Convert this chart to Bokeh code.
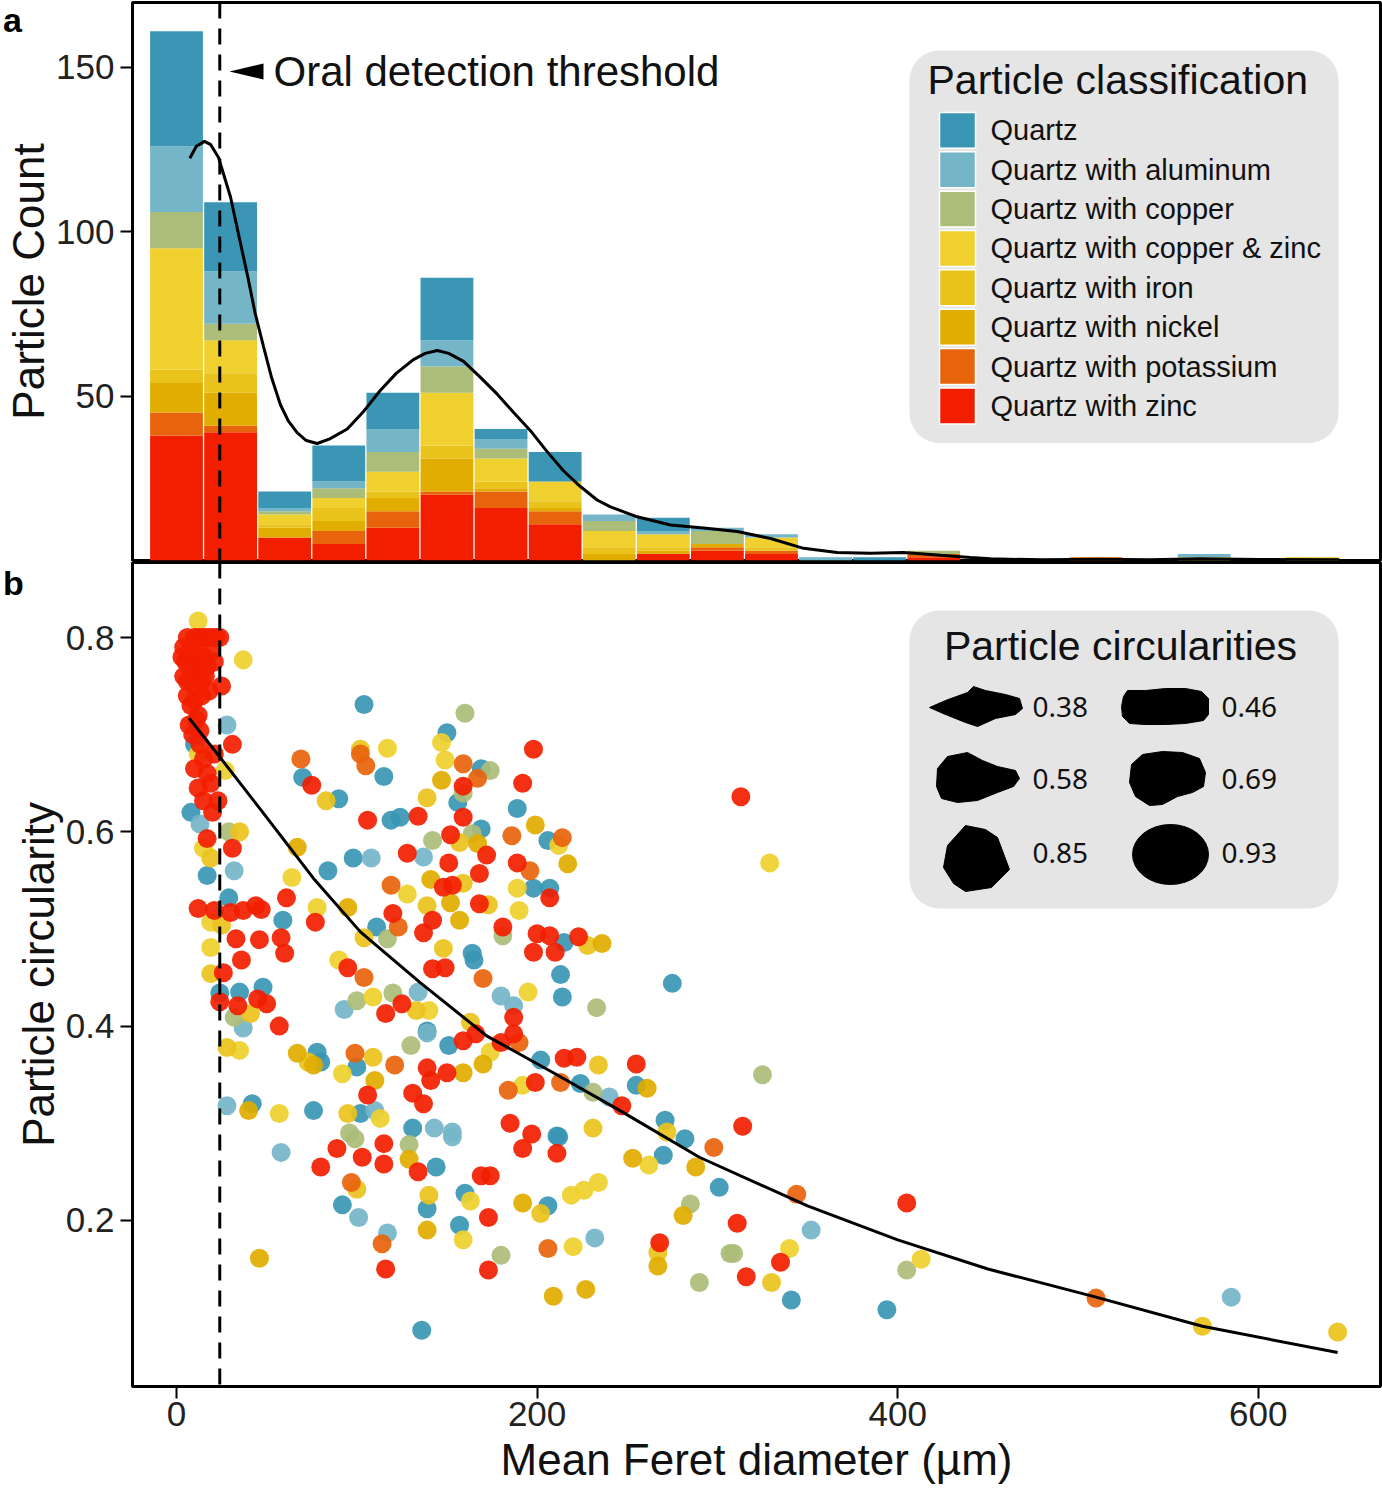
import numpy as np
from bokeh.plotting import figure
from bokeh.layouts import column
from bokeh.models import ColumnDataSource, Span, Label, BoxAnnotation, FixedTicker, Range1d, Div
from bokeh.core.properties import value
from bokeh.embed import file_html
from bokeh.resources import INLINE

FONT = "Liberation Sans"

# ---------------- data ----------------
categories = ["Quartz", "Quartz with aluminum", "Quartz with copper", "Quartz with copper & zinc",
              "Quartz with iron", "Quartz with nickel", "Quartz with potassium", "Quartz with zinc"]
keys = ["quartz", "aluminum", "copper", "copper_zinc", "iron", "nickel", "potassium", "zinc"]
colors = ["#3a96b4", "#74b5c8", "#abbd78", "#efd02e", "#eac21c", "#e1ad00", "#e8640c", "#f21e00"]

bin_centers = [0, 30, 60, 90, 120, 150, 180, 210, 240, 270, 300, 330, 360, 390, 420, 450, 480, 510, 540, 570, 600, 630]
hist_quartz      = [35, 21, 5, 11, 11, 19, 3, 9, 0, 4, 0, 0, 0, 1, 0, 0, 0, 0, 0, 0, 0, 0]
hist_aluminum    = [20, 16, 1, 2, 7, 8, 3, 0, 2, 1, 1, 1, 1, 0, 0, 0, 0, 0, 0, 1, 0, 0]
hist_copper      = [11, 5, 1, 3, 6, 8, 3, 0, 3, 0, 4, 0, 0, 0, 1, 0, 0, 0, 0, 0, 0, 0]
hist_copper_zinc = [37, 10, 3, 3, 6, 16, 7, 6, 5, 4, 0, 3, 0, 0, 0, 0, 0, 0, 0, 1, 0, 0]
hist_iron        = [4, 6, 1, 4, 2, 4, 2, 2, 2, 1, 0, 1, 0, 0, 0, 0, 0, 0, 0, 0, 0, 1]
hist_nickel      = [9, 10, 3, 3, 4, 10, 1, 1, 2, 1, 1, 0, 0, 0, 0, 0, 0, 0, 0, 0, 0, 0]
hist_potassium   = [7, 2, 0, 4, 5, 1, 5, 4, 0, 0, 1, 1, 0, 0, 1, 0, 0, 1, 0, 0, 0, 0]
hist_zinc        = [38, 39, 7, 5, 10, 20, 16, 11, 0, 2, 3, 2, 0, 0, 1, 0, 0, 0, 0, 0, 0, 0]

kde_x = [7.4, 11, 15.5, 19, 23.3, 30, 34.5, 39.2, 43.5, 48.3, 52.8, 57.7, 62, 66.9, 72, 78, 85, 94.7, 104,
         113, 122, 131.4, 138, 144.6, 151, 159.2, 168, 177.9, 187, 196.3, 205, 214.6, 224, 233.3, 240.7,
         255.5, 274, 292.3, 311, 329.5, 347.8, 366.4, 384.9, 403.2, 421.9, 440.4, 451.5, 480, 512, 540,
         568, 600, 645]
kde_y = [122.4, 126.0, 127.5, 126.5, 122.6, 110.5, 99.0, 87.2, 75.5, 65.0, 55.5, 47.3, 42.5, 38.9, 36.5,
         35.6, 37.0, 40.0, 45.5, 51.7, 57.0, 61.1, 63.0, 63.9, 63.0, 60.6, 56.0, 50.6, 45.0, 39.5, 33.5,
         27.3, 22.5, 18.4, 16.3, 13.3, 10.8, 9.9, 8.8, 6.7, 3.7, 2.4, 2.2, 2.4, 1.7, 0.9, 0.5, 0.2, 0.4,
         0.2, 0.5, 0.3, 0.2]

fit_x = [7, 24, 47, 76, 102, 135, 172, 209, 246, 290, 350, 400, 450, 510, 569, 644]
fit_y = [0.717, 0.677, 0.622, 0.552, 0.497, 0.445, 0.39, 0.352, 0.313, 0.265, 0.215, 0.180, 0.150,
         0.121, 0.091, 0.064]

threshold = 24

quartz_x = [104, 70, 90, 115, 119, 124, 98, 84, 17, 29, 59, 111, 24, 35, 48, 78, 80, 100, 42, 76, 102, 131,
            139, 150, 169, 189, 156, 169, 206, 198, 207, 215, 164, 165, 213, 214, 275, 151, 202, 224, 255,
            211, 271, 282, 270, 144, 160, 206, 157, 139, 92, 212, 136, 301, 341, 394, 10, 8]
quartz_y = [0.731, 0.656, 0.634, 0.657, 0.612, 0.615, 0.573, 0.56, 0.555, 0.532, 0.509, 0.502, 0.434, 0.435,
            0.44, 0.373, 0.363, 0.358, 0.32, 0.313, 0.31, 0.295, 0.395, 0.702, 0.665, 0.624, 0.63, 0.603,
            0.591, 0.542, 0.542, 0.486, 0.475, 0.468, 0.453, 0.43, 0.444, 0.38, 0.365, 0.341, 0.339, 0.287,
            0.303, 0.284, 0.267, 0.255, 0.228, 0.215, 0.195, 0.212, 0.216, 0.286, 0.087, 0.234, 0.118,
            0.108, 0.69, 0.62]

aluminum_x = [28, 13, 32, 137, 108, 37, 93, 134, 28, 110, 180, 187, 139, 240, 143, 153, 58, 101, 153, 117,
              232, 352, 585]
aluminum_y = [0.71, 0.608, 0.56, 0.574, 0.573, 0.398, 0.417, 0.435, 0.318, 0.313, 0.431, 0.421, 0.393,
              0.327, 0.295, 0.291, 0.27, 0.203, 0.286, 0.187, 0.182, 0.19, 0.121]

copper_x = [29, 142, 117, 32, 100, 120, 130, 96, 160, 174, 164, 159, 181, 233, 231, 285, 99, 129, 180, 290,
            325, 307, 309, 405]
copper_y = [0.60, 0.591, 0.49, 0.409, 0.426, 0.434, 0.38, 0.29, 0.722, 0.663, 0.598, 0.64, 0.493, 0.419,
            0.332, 0.217, 0.284, 0.278, 0.164, 0.136, 0.35, 0.166, 0.166, 0.149]

copper_zinc_x = [12, 37, 117, 12, 27, 15, 64, 19, 78, 128, 19, 90, 109, 140, 35, 92, 57, 113, 147, 149, 212,
                 189, 190, 195, 174, 192, 262, 219, 226, 234, 163, 159, 220, 329, 340, 413]
copper_zinc_y = [0.817, 0.777, 0.686, 0.68, 0.663, 0.583, 0.553, 0.507, 0.522, 0.536, 0.481, 0.468, 0.43,
                 0.416, 0.375, 0.351, 0.31, 0.305, 0.692, 0.674, 0.586, 0.542, 0.519, 0.435, 0.373, 0.339,
                 0.257, 0.226, 0.231, 0.239, 0.22, 0.18, 0.173, 0.568, 0.171, 0.16]

iron_x = [83, 102, 139, 35, 19, 25, 104, 139, 19, 41, 133, 28, 73, 109, 95, 157, 159, 173, 228, 148, 163,
          234, 231, 272, 140, 202, 100, 267, 330, 569, 644]
iron_y = [0.632, 0.685, 0.635, 0.60, 0.573, 0.504, 0.491, 0.524, 0.454, 0.413, 0.416, 0.378, 0.363, 0.368,
          0.31, 0.589, 0.547, 0.525, 0.483, 0.48, 0.404, 0.36, 0.295, 0.291, 0.226, 0.207, 0.232, 0.167,
          0.136, 0.091, 0.085]

nickel_x = [67, 95, 147, 199, 167, 217, 141, 152, 157, 236, 67, 76, 110, 159, 170, 261, 253, 288, 192, 139,
            40, 46, 129, 209, 227, 267, 281]
nickel_y = [0.584, 0.522, 0.653, 0.607, 0.588, 0.567, 0.551, 0.527, 0.509, 0.485, 0.372, 0.36, 0.344,
            0.352, 0.361, 0.336, 0.264, 0.255, 0.218, 0.19, 0.313, 0.161, 0.263, 0.122, 0.129, 0.153, 0.205]

potassium_x = [69, 102, 105, 123, 119, 104, 99, 121, 159, 167, 186, 214, 196, 170, 190, 184, 213, 97, 114,
               206, 298, 344, 510]
potassium_y = [0.675, 0.68, 0.668, 0.502, 0.545, 0.45, 0.372, 0.36, 0.67, 0.655, 0.596, 0.594, 0.56, 0.449,
               0.383, 0.334, 0.342, 0.239, 0.176, 0.171, 0.275, 0.227, 0.12]

zinc_x = [4, 6, 8, 10, 12, 14, 16, 18, 20, 22, 24, 3, 5, 7, 9, 11, 13, 15, 17, 19, 21, 4, 6, 8, 10, 12, 14,
          16, 18, 6, 8, 10, 12, 14, 7, 9, 11, 13, 25, 31, 13, 17, 15, 19, 12, 15, 23, 20, 17, 31, 10, 21,
          75, 106, 134, 128, 12, 21, 30, 37, 44, 47, 61, 77, 120, 137, 142, 33, 46, 58, 60, 36, 26, 95, 142,
          24, 34, 45, 50, 57, 116, 125, 106, 139, 141, 131, 137, 159, 198, 192, 159, 152, 172, 151, 189,
          168, 148, 153, 207, 168, 181, 200, 207, 223, 198, 210, 149, 187, 166, 159, 187, 180, 150, 215,
          222, 255, 199, 247, 185, 197, 192, 211, 169, 174, 173, 80, 89, 103, 115, 115, 134, 116, 173, 268,
          313, 311, 314, 316, 335, 405]
zinc_y = [0.79, 0.80, 0.79, 0.80, 0.80, 0.80, 0.80, 0.80, 0.80, 0.80, 0.80, 0.78, 0.775, 0.78, 0.77, 0.785,
          0.775, 0.78, 0.77, 0.785, 0.775, 0.76, 0.755, 0.765, 0.75, 0.76, 0.755, 0.76, 0.745, 0.74, 0.73,
          0.735, 0.72, 0.74, 0.71, 0.70, 0.715, 0.69, 0.75, 0.69, 0.704, 0.66, 0.675, 0.65, 0.645, 0.632,
          0.632, 0.62, 0.593, 0.583, 0.665, 0.68, 0.648, 0.612, 0.616, 0.578, 0.521, 0.519, 0.517, 0.519,
          0.524, 0.52, 0.532, 0.507, 0.516, 0.496, 0.509, 0.49, 0.489, 0.491, 0.475, 0.468, 0.455, 0.46,
          0.459, 0.425, 0.421, 0.428, 0.423, 0.40, 0.413, 0.423, 0.329, 0.357, 0.344, 0.331, 0.32, 0.647,
          0.685, 0.65, 0.615, 0.597, 0.576, 0.568, 0.568, 0.557, 0.543, 0.545, 0.532, 0.526, 0.502, 0.495,
          0.493, 0.492, 0.476, 0.476, 0.46, 0.409, 0.392, 0.385, 0.392, 0.383, 0.352, 0.367, 0.368, 0.361,
          0.342, 0.318, 0.30, 0.289, 0.274, 0.269, 0.246, 0.246, 0.203, 0.255, 0.274, 0.265, 0.279, 0.258,
          0.25, 0.15, 0.149, 0.177, 0.636, 0.197, 0.297, 0.142, 0.157, 0.218]

scatter_x = [quartz_x, aluminum_x, copper_x, copper_zinc_x, iron_x, nickel_x, potassium_x, zinc_x]
scatter_y = [quartz_y, aluminum_y, copper_y, copper_zinc_y, iron_y, nickel_y, potassium_y, zinc_y]

circ_values = ["0.38", "0.46", "0.58", "0.69", "0.85", "0.93"]
panel_letters = ["a", "b"]

# ---------------- layout constants ----------------
W = 1382
MBL, MBR = 132, 2
H_TOP, H_BOT = 561, 937
MB_BOT = 112
PXX = 1.803      # px per µm
PXY_TOP = 3.29   # px per count
PXY_BOT = 971.5  # px per unit of circularity
X0_PX = 176      # page x of 0 µm
YT0_PX = 560.5   # page y of count 0
YB_REF = (0.8, 637)  # circularity 0.8 sits at page y 637


def px2x(px):
    return (px - X0_PX) / PXX


def py2c(py):
    return (YT0_PX - py) / PXY_TOP


def py2v(py):
    return YB_REF[0] - (py - YB_REF[1]) / PXY_BOT


x_range = Range1d(px2x(MBL), px2x(W - MBR))


def style(p):
    p.outline_line_color = "black"
    p.outline_line_width = 3
    p.xgrid.visible = False
    p.ygrid.visible = False
    p.background_fill_color = "white"
    p.border_fill_color = "white"
    for ax in p.axis:
        ax.axis_line_color = None
        ax.major_tick_line_color = "black"
        ax.major_tick_line_width = 2
        ax.major_tick_out = 12
        ax.major_tick_in = 0
        ax.minor_tick_line_color = None
        ax.major_label_text_font = FONT
        ax.major_label_text_font_size = "35px"
        ax.major_label_text_color = "#222222"
        ax.axis_label_text_font = FONT
        ax.axis_label_text_font_size = "44px"
        ax.axis_label_text_font_style = "normal"
        ax.axis_label_text_color = "#111111"
    for ax in p.yaxis:
        ax.major_label_standoff = 6
        ax.axis_label_standoff = 0
    for ax in p.xaxis:
        ax.major_label_standoff = 3
        ax.axis_label_standoff = 6


# ---------------- top panel ----------------
top = figure(width=W, height=H_TOP, x_range=x_range, y_range=Range1d(0, py2c(2)),
             output_backend="svg", toolbar_location=None,
             min_border_left=MBL, min_border_right=MBR, min_border_top=2, min_border_bottom=1)
style(top)
top.xaxis.visible = False
top.yaxis.axis_label = "Particle Count"
top.yaxis.ticker = FixedTicker(ticks=[50, 100, 150])

hist_src = ColumnDataSource(dict(bin=bin_centers, quartz=hist_quartz, aluminum=hist_aluminum,
                                 copper=hist_copper, copper_zinc=hist_copper_zinc, iron=hist_iron,
                                 nickel=hist_nickel, potassium=hist_potassium, zinc=hist_zinc))
top.vbar_stack(keys[::-1], x="bin", width=29.3, color=colors[::-1], line_color=None, source=hist_src)
top.line(kde_x, kde_y, line_color="black", line_width=3)

top.add_layout(Span(location=threshold, dimension="height", line_color="black",
                    line_width=3, line_dash="16 10"))

# threshold annotation
ann_y = py2c(71)
hh = 8 / PXY_TOP
top.patch([px2x(229), px2x(263), px2x(263)], [ann_y, ann_y + hh, ann_y - hh], color="black",
          line_color=None)
top.add_layout(Label(x=px2x(273), y=ann_y, text="Oral detection threshold",
                     text_font=FONT, text_font_size="42px", text_baseline="middle",
                     text_align="left", text_color="#111111"))

# legend box
top.add_layout(BoxAnnotation(left=px2x(909), right=px2x(1338), bottom=py2c(443), top=py2c(50),
                             fill_color="#e5e5e5", fill_alpha=1.0, line_color=None,
                             border_radius=30, level="underlay"))
top.add_layout(Label(x=px2x(927), y=py2c(80), text="Particle classification",
                     text_font=FONT, text_font_size="41px", text_baseline="middle",
                     text_align="left", text_color="#111111"))
row_y = [py2c(130 + 39.4 * i) for i in range(len(categories))]
leg_src = ColumnDataSource(dict(x=[px2x(957)] * len(categories), y=row_y,
                                tx=[px2x(990)] * len(categories),
                                label=categories, color=colors))
top.rect(x="x", y="y", width=36 / PXX, height=36 / PXY_TOP, fill_color="color",
         line_color="white", line_width=1.5, source=leg_src)
top.text(x="tx", y="y", text="label", text_font=value(FONT), text_font_size="29px",
         text_baseline="middle", text_align="left", text_color="#111111", source=leg_src)

# ---------------- bottom panel ----------------
bot_frame_bottom = H_TOP + H_BOT - MB_BOT
bot = figure(width=W, height=H_BOT, x_range=x_range,
             y_range=Range1d(py2v(bot_frame_bottom), py2v(H_TOP + 1)),
             output_backend="svg", toolbar_location=None,
             min_border_left=MBL, min_border_right=MBR, min_border_top=1, min_border_bottom=MB_BOT)
style(bot)
bot.xaxis.axis_label = "Mean Feret diameter (µm)"
bot.yaxis.axis_label = "Particle circularity"
bot.xaxis.ticker = FixedTicker(ticks=[0, 200, 400, 600])
bot.yaxis.ticker = FixedTicker(ticks=[0.2, 0.4, 0.6, 0.8])

bot.add_layout(Span(location=threshold, dimension="height", line_color="black",
                    line_width=3, line_dash="16 10"))

for xs, ys, c in zip(scatter_x, scatter_y, colors):
    bot.scatter(xs, ys, size=19, fill_color=c, line_color=None, fill_alpha=0.92)

bot.line(fit_x, fit_y, line_color="black", line_width=3)

# circularity box
bot.add_layout(BoxAnnotation(left=px2x(909), right=px2x(1338), bottom=py2v(908), top=py2v(610),
                             fill_color="#e5e5e5", fill_alpha=1.0, line_color=None,
                             border_radius=30, level="underlay"))
bot.add_layout(Label(x=px2x(1120), y=py2v(645), text="Particle circularities", text_font=FONT,
                     text_font_size="41px", text_baseline="middle", text_align="center",
                     text_color="#111111"))

shape_centers = [(975, 706), (1165, 706), (977, 778), (1167, 778), (977, 857)]
shape_offsets = [
    [(-46, 1), (-30, -6), (-8, -14), (-2, -20), (10, -16), (30, -12), (44, -8), (47, 2), (40, 8),
     (20, 12), (2, 20), (-10, 16), (-30, 8)],
    [(-42, -10), (-38, -16), (-20, -16), (0, -18), (20, -18), (36, -15), (43, -8), (43, 8), (38, 14),
     (20, 17), (0, 18), (-20, 18), (-36, 17), (-43, 10), (-44, 0)],
    [(-40, -10), (-30, -22), (-10, -26), (5, -18), (20, -12), (38, -8), (42, 0), (36, 8), (20, 14),
     (0, 22), (-20, 24), (-36, 20), (-41, 8)],
    [(-36, -14), (-25, -24), (-5, -27), (15, -26), (32, -20), (38, -6), (36, 8), (25, 14), (10, 18),
     (-5, 26), (-18, 27), (-32, 18), (-38, 4)],
    [(-30, -12), (-12, -32), (8, -28), (20, -20), (32, 12), (14, 30), (-12, 34), (-24, 26), (-34, 10)],
]
for (cx, cy), offs in zip(shape_centers, shape_offsets):
    bot.patch([px2x(cx + dx) for dx, dy in offs], [py2v(cy + dy) for dx, dy in offs],
              color="black", line_color="black", line_width=1)
bot.ellipse(x=[px2x(1170)], y=[py2v(854)], width=[76 / PXX], height=[60 / PXY_BOT], color="black")

circ_src = ColumnDataSource(dict(
    x=[px2x(1032), px2x(1221), px2x(1032), px2x(1221), px2x(1032), px2x(1221)],
    y=[py2v(706), py2v(706), py2v(778), py2v(778), py2v(852), py2v(852)],
    t=circ_values))
bot.text(x="x", y="y", text="t", text_font=value("Noto Sans"), text_font_size="28px",
         text_baseline="middle", text_align="left", text_color="#111111", source=circ_src)

# panel letters (outside the plot frames, so placed as absolutely positioned text)
letter_style = {"position": "absolute", "z-index": "20", "font-family": "'Liberation Sans', Arial, sans-serif",
                "font-size": "34px", "font-weight": "bold", "line-height": "40px", "color": "black"}
div_a = Div(text=panel_letters[0], width=30, height=42, margin=(0, 0, 0, 0),
            styles=dict(letter_style, left="3px", top="0px"))
div_b = Div(text=panel_letters[1], width=30, height=42, margin=(0, 0, 0, 0),
            styles=dict(letter_style, left="3px", top="563px"))

layout = column(div_a, div_b, top, bot, spacing=0)
open("out.html", "w").write(file_html(layout, INLINE))
